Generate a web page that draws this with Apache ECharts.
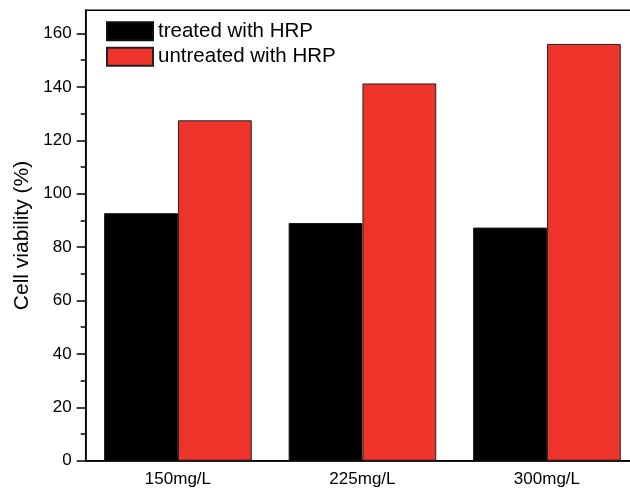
<!DOCTYPE html>
<html>
<head>
<meta charset="utf-8">
<script src="https://cdn.jsdelivr.net/npm/echarts@6/dist/echarts.min.js"></script>
<style>html,body{margin:0;padding:0;background:#fff;overflow:hidden;width:630px;height:488px;}#c{width:642px;height:488px;}</style>
</head>
<body>
<div id="c"></div>
<script>
var categories = ['150mg/L', '225mg/L', '300mg/L'];
var treated = [92.7, 89.0, 87.3];
var untreated = [127.5, 141.3, 156.1];
var seriesNames = ['treated with HRP', 'untreated with HRP'];
var majorTicks = [0, 20, 40, 60, 80, 100, 120, 140, 160];
var minorTicks = [10, 30, 50, 70, 90, 110, 130, 150];
var yMax = 168.7;
var yTitle = 'Cell viability (%)';

var FONT = 'Liberation Sans, Arial, sans-serif';
var chart = echarts.init(document.getElementById('c'), null, {renderer: 'canvas'});
chart.setOption({
  animation: false,
  backgroundColor: '#fff',
  grid: {left: 85.7, width: 553.5, top: 10.3, bottom: 27.3, show: true, borderColor: '#000', borderWidth: 1.5, containLabel: false},
  legend: {
    orient: 'vertical', left: 106, top: 20.7, padding: 0, itemWidth: 46, itemHeight: 18, itemGap: 4.5,
    icon: 'rect',
    textStyle: {fontFamily: FONT, fontSize: 20.5, lineHeight: 18, color: '#000'},
    data: seriesNames
  },
  xAxis: {
    type: 'category', data: categories,
    axisLine: {lineStyle: {color: '#000', width: 1.5}},
    axisTick: {show: false},
    axisLabel: {fontFamily: FONT, fontSize: 17, color: '#000', margin: 10}
  },
  yAxis: [{
    type: 'value', min: 0, max: yMax,
    name: yTitle, nameLocation: 'middle', nameGap: 50,
    nameTextStyle: {fontFamily: FONT, fontSize: 21, color: '#000'},
    axisLine: {show: true, lineStyle: {color: '#000', width: 1.5}},
    axisTick: {show: true, length: 9, lineStyle: {color: '#000', width: 1.5}, customValues: majorTicks},
    axisLabel: {fontFamily: FONT, fontSize: 17, color: '#000', margin: 14, customValues: majorTicks},
    splitLine: {show: false}
  }, {
    type: 'value', min: 0, max: yMax, position: 'left',
    axisLine: {show: false},
    axisTick: {show: true, length: 5, lineStyle: {color: '#000', width: 1.5}, customValues: minorTicks},
    axisLabel: {show: false},
    splitLine: {show: false}
  }],
  series: [{
    name: seriesNames[0], type: 'bar', data: treated, yAxisIndex: 0,
    barWidth: '40%', barGap: '0%',
    itemStyle: {color: '#000', borderColor: '#111', borderWidth: 1}
  }, {
    name: seriesNames[1], type: 'bar', data: untreated, yAxisIndex: 0,
    barWidth: '40%', barGap: '0%',
    itemStyle: {color: '#EE332B', borderColor: '#222', borderWidth: 1}
  }]
});
</script>
</body>
</html>
